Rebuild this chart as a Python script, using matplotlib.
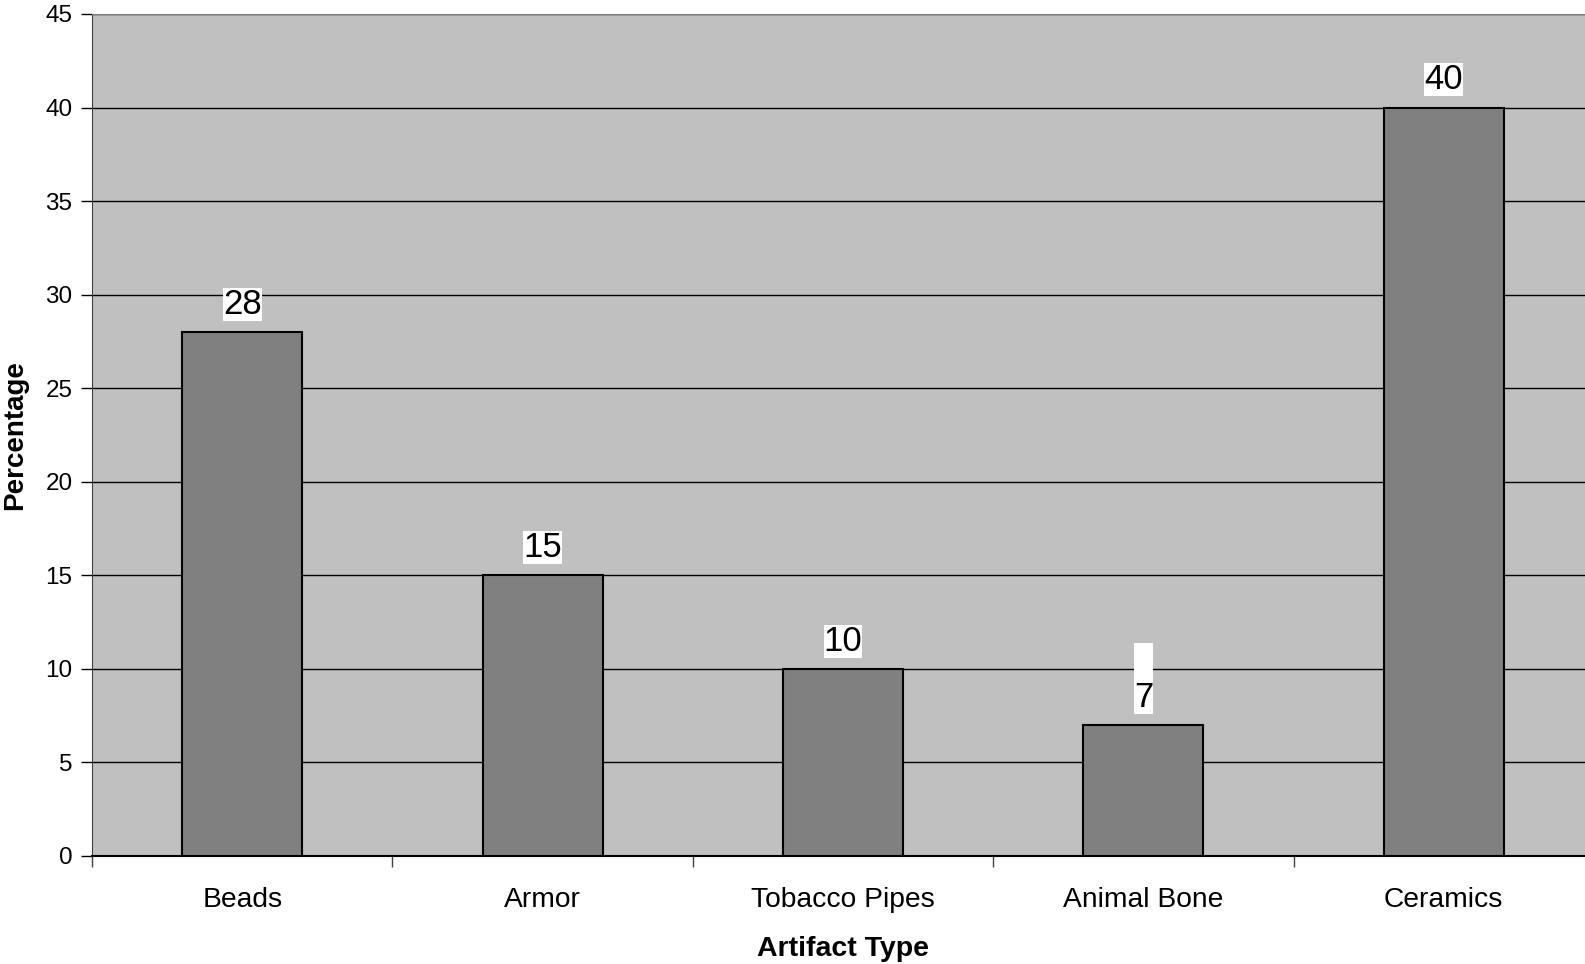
import matplotlib.pyplot as plt

plt.rcParams["font.family"] = ["Liberation Sans", "DejaVu Sans"]

categories = ["Beads", "Armor", "Tobacco Pipes", "Animal Bone", "Ceramics"]
percentages = [28, 15, 10, 7, 40]
# the "7" label in the original has an extra empty line above it
bar_labels = ["28", "15", "10", "\n7", "40"]
y_ticks = [0, 5, 10, 15, 20, 25, 30, 35, 40, 45]

fig = plt.figure(figsize=(15.85, 9.64), dpi=100)
ax = fig.add_axes([92 / 1585, 108 / 964, 1502 / 1585, 842 / 964])
ax.set_facecolor("#C0C0C0")

x = list(range(len(categories)))
bars = ax.bar(x, percentages, width=0.4, color="#808080",
              edgecolor="black", linewidth=1.5, zorder=3)

for rect, lab in zip(bars, bar_labels):
    ax.annotate(lab, (rect.get_x() + rect.get_width() / 2, rect.get_height()),
                xytext=(0, 8), textcoords="offset points",
                ha="center", va="bottom", fontsize=25, zorder=4,
                bbox=dict(boxstyle="square,pad=0", fc="white", ec="none"))

ax.set_xlim(-0.5, len(categories) - 0.5)
ax.set_ylim(0, 45)
ax.set_yticks(y_ticks)
ax.yaxis.grid(True, color="black", linewidth=1.0, zorder=1)
ax.set_axisbelow(True)

ax.set_xticks(x)
ax.set_xticklabels(categories, fontsize=20.3)
ax.set_xticks([i - 0.5 for i in range(len(categories) + 1)], minor=True)
ax.tick_params(axis="x", which="major", length=0, pad=22)
ax.tick_params(axis="x", which="minor", length=8, width=1, color="#404040")
ax.tick_params(axis="y", length=8, width=1, labelsize=17.5, pad=6)

ax.spines["right"].set_visible(False)
ax.spines["top"].set_color("#808080")
ax.spines["left"].set_color("#404040")
ax.spines["bottom"].set_color("black")
ax.spines["bottom"].set_linewidth(1.5)

ax.set_xlabel("Artifact Type", fontsize=20.5, fontweight="bold", labelpad=17)
ax.set_ylabel("Percentage", fontsize=20, fontweight="bold")
ax.yaxis.set_label_coords(-0.0425, 0.5)

fig.savefig("out.png", dpi=100)
